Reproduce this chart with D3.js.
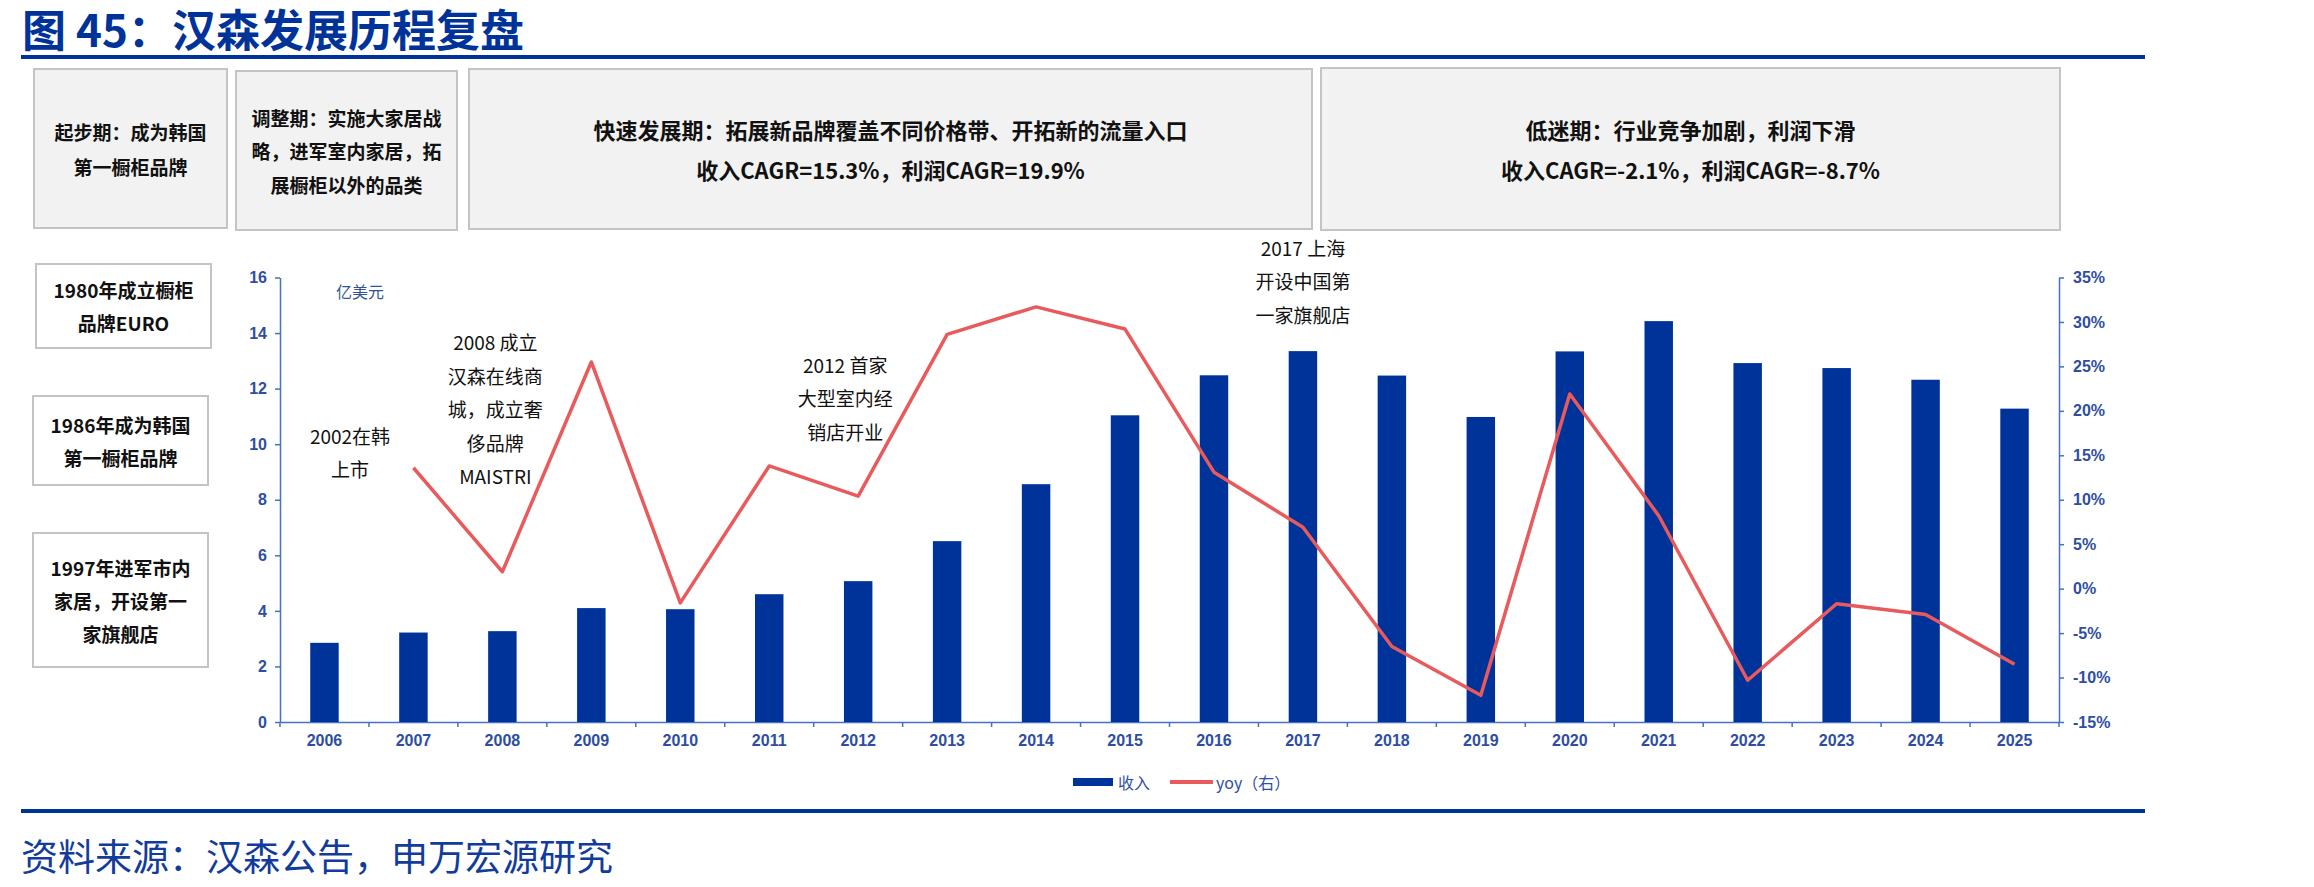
<!DOCTYPE html>
<html>
<head>
<meta charset="utf-8">
<script src="https://cdn.jsdelivr.net/npm/d3@7"></script>
<style>
  body { margin: 0; background: #fff; }
  svg { display: block; }
  .cjk { font-family: "Noto Sans CJK SC", "Noto Sans", sans-serif; }
  .axis text { font-family: "Liberation Sans", Arial, sans-serif; font-size: 16px; font-weight: bold; fill: #2e4ea3; }
  .axis path, .axis line { stroke: #4472c4; stroke-width: 1.5; }
</style>
</head>
<body>
<svg width="2314" height="887"></svg>
<script>
// data
const years = ['2006', '2007', '2008', '2009', '2010', '2011', '2012', '2013', '2014', '2015',
               '2016', '2017', '2018', '2019', '2020', '2021', '2022', '2023', '2024', '2025'];
// revenue, 亿美元
const revenue = [2.85, 3.22, 3.27, 4.10, 4.06, 4.60, 5.07, 6.51, 8.56, 11.04,
                 12.48, 13.35, 12.47, 10.98, 13.34, 14.43, 12.92, 12.74, 12.32, 11.28];
// yoy in %, no value for 2006
const yoy = [null, 13.6, 1.9, 25.5, -1.6, 13.8, 10.4, 28.6, 31.7, 29.2,
             13.1, 6.9, -6.5, -12.0, 21.9, 8.2, -10.3, -1.7, -2.9, -8.5];
const leftTicks = [0, 2, 4, 6, 8, 10, 12, 14, 16];
const rightTicks = [-15, -10, -5, 0, 5, 10, 15, 20, 25, 30, 35];

const title = '图 45：汉森发展历程复盘';
const source = '资料来源：汉森公告，申万宏源研究';
const unitLabel = '亿美元';
const legendNames = ['收入', 'yoy（右）'];

// the four phase boxes on top
const phaseText = [
  ['起步期：成为韩国', '第一橱柜品牌'],
  ['调整期：实施大家居战', '略，进军室内家居，拓', '展橱柜以外的品类'],
  ['快速发展期：拓展新品牌覆盖不同价格带、开拓新的流量入口', '收入CAGR=15.3%，利润CAGR=19.9%'],
  ['低迷期：行业竞争加剧，利润下滑', '收入CAGR=-2.1%，利润CAGR=-8.7%']
];
// milestones on the left
const milestoneText = [
  ['1980年成立橱柜', '品牌EURO'],
  ['1986年成为韩国', '第一橱柜品牌'],
  ['1997年进军市内', '家居，开设第一', '家旗舰店']
];
// notes over the chart, tied to a year
const noteYears = ['2006', '2008', '2012', '2017'];
const noteText = [
  ['2002在韩', '上市'],
  ['2008 成立', '汉森在线商', '城，成立奢', '侈品牌', 'MAISTRI'],
  ['2012 首家', '大型室内经', '销店开业'],
  ['2017 上海', '开设中国第', '一家旗舰店']
];

const svg = d3.select('svg');
const BLUE = '#00339a';

// plot area
const plot = {left: 280, right: 2059, top: 277.5, bottom: 722};

// bands: inner padding .68 and half of it outside keeps bars centered in each step
const x = d3.scaleBand().domain(years).range([plot.left, plot.right])
  .paddingInner(0.68).paddingOuter(0.34);
const yL = d3.scaleLinear().domain([0, 16]).range([plot.bottom, plot.top]);
const yR = d3.scaleLinear().domain([-15, 35]).range([plot.bottom, plot.top]);
const cx = d => x(d) + x.bandwidth() / 2;

// title + rules + source
svg.append('text').attr('class', 'cjk')
  .attr('x', 22).attr('y', 28)
  .attr('dominant-baseline', 'central')
  .style('font-size', '44px').style('font-weight', 'bold').style('fill', BLUE)
  .text(title);
svg.append('rect').attr('x', 21).attr('y', 55).attr('width', 2124).attr('height', 4).attr('fill', BLUE);
svg.append('rect').attr('x', 21).attr('y', 809).attr('width', 2124).attr('height', 4).attr('fill', BLUE);
svg.append('text').attr('class', 'cjk')
  .attr('x', 21).attr('y', 855)
  .attr('dominant-baseline', 'central')
  .style('font-size', '37px').style('fill', '#123c9c')
  .text(source);

// boxes, layout only
const phaseBoxes = [
  {x0: 34, x1: 227, y0: 69, y1: 228, size: 19, gap: 35},
  {x0: 236, x1: 457, y0: 71, y1: 230, size: 19, gap: 33.5},
  {x0: 469, x1: 1312, y0: 69, y1: 229, size: 22, gap: 40},
  {x0: 1321, x1: 2060, y0: 68, y1: 230, size: 22, gap: 40}
];
const milestoneBoxes = [
  {x0: 36, x1: 211, y0: 264, y1: 348},
  {x0: 33, x1: 208, y0: 396, y1: 485},
  {x0: 33, x1: 208, y0: 533, y1: 667}
];

function textBox(b, lines, fill, size, gap) {
  const g = svg.append('g');
  g.append('rect')
    .attr('x', b.x0).attr('y', b.y0)
    .attr('width', b.x1 - b.x0).attr('height', b.y1 - b.y0)
    .attr('fill', fill).attr('stroke', '#c4c4c4').attr('stroke-width', 2);
  const mid = (b.y0 + b.y1) / 2;
  g.selectAll('text').data(lines).enter().append('text')
    .attr('class', 'cjk')
    .attr('x', (b.x0 + b.x1) / 2)
    .attr('y', (d, i) => mid + (i - (lines.length - 1) / 2) * gap)
    .attr('text-anchor', 'middle').attr('dominant-baseline', 'central')
    .style('font-size', size + 'px').style('font-weight', 'bold').style('fill', '#111')
    .text(d => d);
}
phaseBoxes.forEach((b, i) => textBox(b, phaseText[i], '#f2f2f2', b.size, b.gap));
milestoneBoxes.forEach((b, i) => textBox(b, milestoneText[i], '#fff', 19, 33));

// axes
const gx = svg.append('g').attr('class', 'axis')
  .attr('transform', 'translate(0,' + plot.bottom + ')')
  .call(d3.axisBottom(x).tickSize(0).tickPadding(13));
// ticks sit between the categories
gx.selectAll('.sep').data(d3.range(years.length + 1)).enter().append('line')
  .attr('class', 'sep')
  .attr('x1', i => plot.left + i * x.step()).attr('x2', i => plot.left + i * x.step())
  .attr('y1', 0).attr('y2', 5);

svg.append('g').attr('class', 'axis')
  .attr('transform', 'translate(' + plot.left + ',0)')
  .call(d3.axisLeft(yL).tickValues(leftTicks).tickSize(5).tickSizeOuter(0).tickPadding(8));

svg.append('g').attr('class', 'axis')
  .attr('transform', 'translate(' + plot.right + ',0)')
  .call(d3.axisRight(yR).tickValues(rightTicks).tickFormat(d => d + '%')
    .tickSize(5).tickSizeOuter(0).tickPadding(9));

svg.append('text').attr('class', 'cjk')
  .attr('x', 336).attr('y', 291)
  .attr('dominant-baseline', 'central')
  .style('font-size', '16px').style('fill', '#2f5597')
  .text(unitLabel);

// bars
svg.append('g').selectAll('rect').data(revenue).enter().append('rect')
  .attr('x', (d, i) => x(years[i]))
  .attr('y', d => yL(d))
  .attr('width', x.bandwidth())
  .attr('height', d => yL(0) - yL(d))
  .attr('fill', BLUE);

// yoy line
const line = d3.line()
  .defined(d => d != null)
  .x((d, i) => cx(years[i]))
  .y(d => yR(d));
svg.append('path').datum(yoy)
  .attr('d', line)
  .attr('fill', 'none')
  .attr('stroke', '#e85a5b')
  .attr('stroke-width', 3.5)
  .attr('stroke-linejoin', 'round');

// milestone notes over the plot
const noteShift = [25.5, -7, -13, 0];
const noteTop = [435, 341.5, 364, 247];
noteYears.forEach((yr, k) => {
  svg.append('g').selectAll('text').data(noteText[k]).enter().append('text')
    .attr('class', 'cjk')
    .attr('x', cx(yr) + noteShift[k])
    .attr('y', (d, i) => noteTop[k] + i * 33.5)
    .attr('text-anchor', 'middle').attr('dominant-baseline', 'central')
    .style('font-size', '19px').style('fill', '#111')
    .text(d => d);
});

// legend
const lg = svg.append('g').attr('transform', 'translate(1073,782)');
lg.append('rect').attr('x', 0).attr('y', -4).attr('width', 40).attr('height', 8).attr('fill', BLUE);
lg.append('text').attr('class', 'cjk').attr('x', 45).attr('y', 0)
  .attr('dominant-baseline', 'central')
  .style('font-size', '16px').style('fill', '#2e4ea3').text(legendNames[0]);
lg.append('line').attr('x1', 97).attr('x2', 140).attr('y1', 0).attr('y2', 0)
  .attr('stroke', '#e85a5b').attr('stroke-width', 4);
lg.append('text').attr('class', 'cjk').attr('x', 143).attr('y', 0)
  .attr('dominant-baseline', 'central')
  .style('font-size', '16px').style('fill', '#2e4ea3').text(legendNames[1]);
</script>
</body>
</html>
